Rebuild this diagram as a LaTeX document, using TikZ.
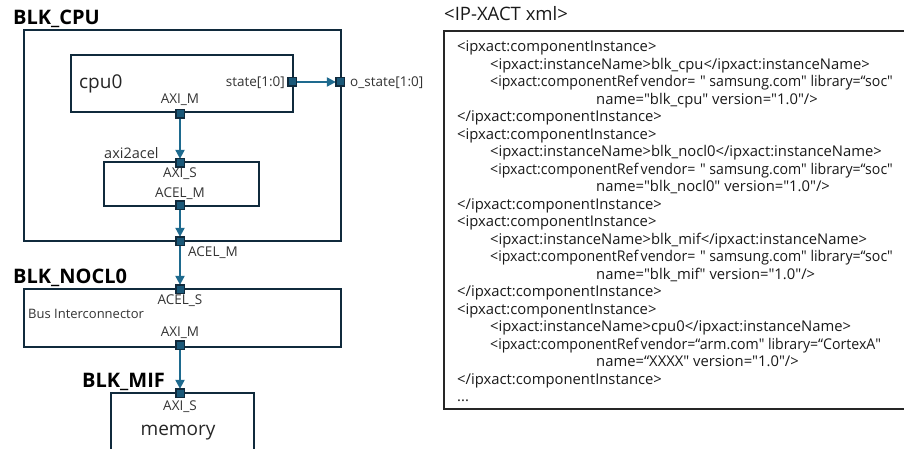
\documentclass[tikz,border=0pt]{standalone}
\usepackage{fontspec}
\setmainfont{Open Sans}
\usetikzlibrary{arrows.meta}
\definecolor{navy}{HTML}{102A3C}
\definecolor{flow}{HTML}{1E6A8E}
\definecolor{portfill}{HTML}{1A5878}
\definecolor{lbl}{HTML}{333333}
\newcommand{\dq}{\XeTeXglyph\XeTeXcharglyph"22\relax}
\newcommand{\squeeze}[1]{\scalebox{0.955}[1]{#1}}
\begin{document}
\begin{tikzpicture}[x=1pt,y=-1pt,
  box/.style={draw=navy, line width=2pt, inner sep=0, anchor=north west},
  port/.style={draw=navy, fill=portfill, line width=1.3pt, minimum size=7pt, inner sep=0, rectangle},
  flowarrow/.style={draw=flow, line width=2pt, -{Triangle[length=9pt,width=9pt]}},
  lab/.style={font=\fontsize{13.5}{16}\selectfont, text=lbl, inner sep=0},
  blktitle/.style={font=\fontsize{20}{24}\selectfont\bfseries, text=black, inner sep=0, anchor=base west},
  big/.style={font=\fontsize{19}{22}\selectfont, text=black!85, inner sep=0},
  xml/.style={font=\fontsize{14.8}{17}\selectfont, text=black!90, inner sep=0, anchor=base west},
]
\useasboundingbox (0,0) rectangle (904,449);

% ---------- left: block diagram ----------
\node[blktitle] (tcpu) at (13,25) {BLK\_CPU};
\node[box, line width=2.4pt, minimum width=317pt, minimum height=211pt] (blkcpu) at (23,29) {};
\node[box, minimum width=222pt, minimum height=57pt] (cpu) at (70,54) {};
\node[big, anchor=base west] (cpulbl) at (79,89) {cpu0};
\node[lab, anchor=base east] (lstate) at (285,87) {state[1:0]};
\node[lab, anchor=base west] (lostate) at (350,87) {o\_state[1:0]};
\node[lab, anchor=base] (lcpuaxi) at (180,104) {AXI\_M};

\node[lab, anchor=base west, font=\fontsize{14.5}{17}\selectfont] (laxi2acel) at (104,159) {axi2acel};
\node[box, minimum width=155pt, minimum height=44pt] (axi2acel) at (103,161) {};
\node[lab, anchor=base] (laxis) at (180,178) {AXI\_S};
\node[lab, anchor=base] (lacelm) at (180,197) {ACEL\_M};
\node[lab, anchor=base west] (loutacel) at (188,256) {ACEL\_M};

\node[blktitle] (tnoc) at (13,283) {BLK\_NOCL0};
\node[box, minimum width=317pt, minimum height=58pt] (noc) at (23,288) {};
\node[lab, anchor=base] (lacels) at (180,304) {ACEL\_S};
\node[lab, anchor=base west, font=\fontsize{13}{16}\selectfont] (lbus) at (28,318) {Bus Interconnector};
\node[lab, anchor=base] (lnocaxi) at (180,336) {AXI\_M};

\node[blktitle] (tmif) at (82,387) {BLK\_MIF};
\node[box, minimum width=143pt, minimum height=57pt] (mif) at (110,392) {};
\node[lab, anchor=base] (lmifaxi) at (180,410) {AXI\_S};
\node[big, anchor=base] (lmem) at (178,435) {memory};

% ports
\node[port] (pstate) at (292,82) {};
\node[port] (postate) at (340,82) {};
\node[port] (pcpuaxi) at (180,114) {};
\node[port] (paxis) at (180,163) {};
\node[port] (pacelm) at (180,205) {};
\node[port] (pcpuout) at (180,241) {};
\node[port] (pacels) at (180,289) {};
\node[port] (pnocaxi) at (180,345) {};
\node[port] (pmifaxi) at (180,393) {};

% connectors
\draw[flowarrow] (pstate) -- (postate);
\draw[flowarrow] (pcpuaxi) -- (paxis);
\draw[flowarrow] (pacelm) -- (pcpuout);
\draw[flowarrow] (pcpuout) -- (pacels);
\draw[flowarrow] (pnocaxi) -- (pmifaxi);
% redraw ports on top
\foreach \p in {pstate,postate,pcpuaxi,paxis,pacelm,pcpuout,pacels,pnocaxi,pmifaxi}
  \draw[draw=navy, fill=portfill, line width=1.3pt] (\p.north west) rectangle (\p.south east);

% ---------- right: IP-XACT xml ----------
\node[font=\fontsize{18.5}{21}\selectfont, text=black!90, inner sep=0, anchor=base west] (xtitle) at (444,21) {<IP-XACT xml>};
\node[draw=black!85, line width=2pt, anchor=north west, minimum width=472pt, minimum height=378pt, inner sep=0] (xbox) at (443,30) {};

\node[xml] (x1) at (457,51.8) {<ipxact:componentInstance>};
\node[xml] (x2) at (490,69.3) {<ipxact:instanceName>blk\_cpu</ipxact:instanceName>};
\node[xml] (x3) at (490,86.8) {\squeeze{<ipxact:componentRef\,vendor=\,\,\dq\ samsung.com\dq\ library=“soc\dq}};
\node[xml] (x4) at (596,104.3) {name=\dq blk\_cpu\dq\ version=\dq 1.0\dq/>};
\node[xml] (x5) at (457,121.8) {</ipxact:componentInstance>};
\node[xml] (x6) at (457,139.3) {<ipxact:componentInstance>};
\node[xml] (x7) at (490,156.8) {<ipxact:instanceName>blk\_nocl0</ipxact:instanceName>};
\node[xml] (x8) at (490,174.3) {\squeeze{<ipxact:componentRef\,vendor=\,\,\dq\ samsung.com\dq\ library=“soc\dq}};
\node[xml] (x9) at (596,191.8) {name=\dq blk\_nocl0\dq\ version=\dq 1.0\dq/>};
\node[xml] (x10) at (457,209.3) {</ipxact:componentInstance>};
\node[xml] (x11) at (457,226.8) {<ipxact:componentInstance>};
\node[xml] (x12) at (490,244.3) {<ipxact:instanceName>blk\_mif</ipxact:instanceName>};
\node[xml] (x13) at (490,261.8) {\squeeze{<ipxact:componentRef\,vendor=\,\,\dq\ samsung.com\dq\ library=“soc\dq}};
\node[xml] (x14) at (596,279.3) {name=\dq blk\_mif\dq\ version=\dq 1.0\dq/>};
\node[xml] (x15) at (457,296.8) {</ipxact:componentInstance>};
\node[xml] (x16) at (457,314.3) {<ipxact:componentInstance>};
\node[xml] (x17) at (490,331.8) {<ipxact:instanceName>cpu0</ipxact:instanceName>};
\node[xml] (x18) at (490,349.3) {\squeeze{<ipxact:componentRef\,vendor=“arm.com\dq\ library=“CortexA\dq}};
\node[xml] (x19) at (596,366.8) {name=“XXXX\dq\ version=\dq 1.0\dq/>};
\node[xml] (x20) at (457,384.3) {</ipxact:componentInstance>};
\node[xml] (x21) at (457,401.8) {...};
\end{tikzpicture}
\end{document}
